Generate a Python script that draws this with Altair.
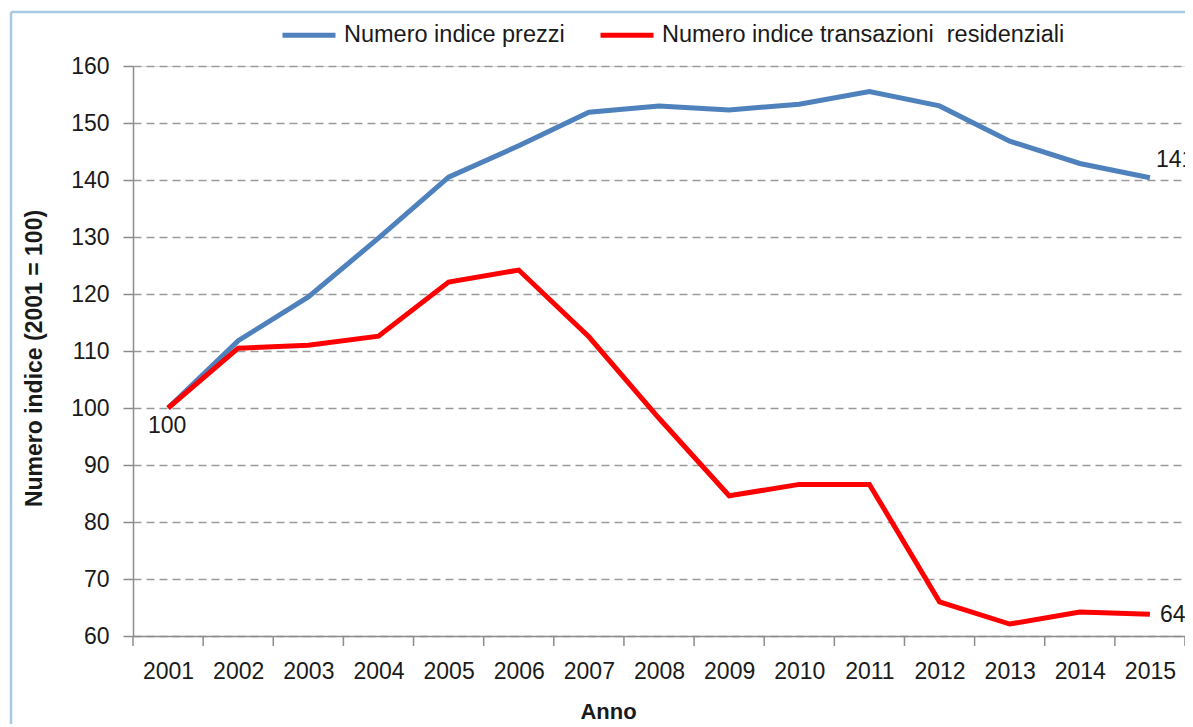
import altair as alt
import pandas as pd

# ---- data ----
years = list(range(2001, 2016))
prezzi = [100, 111.8, 119.5, 129.8, 140.5, 146.0, 151.9, 153.0, 152.3, 153.3, 155.5, 153.0, 146.8, 142.9, 140.4]
transazioni = [100, 110.5, 111.0, 112.6, 122.1, 124.2, 112.5, 98.2, 84.6, 86.6, 86.6, 66.0, 62.1, 64.2, 63.8]
series_names = ["Numero indice prezzi", "Numero indice transazioni \u00a0residenziali"]
series_colors = ["#4F81BD", "#FF0000"]
y_ticks = [60, 70, 80, 90, 100, 110, 120, 130, 140, 150, 160]

lab_first_year = [2001]
lab_first_val = [100]
lab_first_txt = ["100"]
lab_prezzi_year = [2015]
lab_prezzi_val = [140.4]
lab_prezzi_txt = ["141"]
lab_trans_year = [2015]
lab_trans_val = [63.8]
lab_trans_txt = ["64"]

FONT = "Liberation Sans"
TXT = "#1a1a1a"
GRAY = "#8c8c8c"
PLOT_H = 570

df = pd.DataFrame({
    "year": years * 2,
    "value": prezzi + transazioni,
    "serie": [series_names[0]] * len(years) + [series_names[1]] * len(years),
})
boundaries = [y - 0.5 for y in years] + [years[-1] + 0.5]

xs = alt.Scale(domain=[years[0] - 0.5, years[-1] + 0.5], nice=False, zero=False)
ys = alt.Scale(domain=[y_ticks[0], y_ticks[-1]], nice=False, zero=False)

lines = alt.Chart(df).mark_line(strokeWidth=5).encode(
    x=alt.X("year:Q", scale=xs, axis=alt.Axis(
        values=years, format="d", ticks=False, domain=True, domainColor=GRAY,
        domainWidth=1.5, grid=False,
        labelFontSize=23, labelPadding=24, labelColor=TXT, labelFont=FONT,
        title="Anno", titleFont=FONT, titleFontSize=22, titleFontWeight="bold",
        titleColor=TXT, titleX=475, titleY=75, titleBaseline="middle",
        titleAnchor="start", titleAlign="center", orient="bottom")),
    y=alt.Y("value:Q", scale=ys, axis=alt.Axis(
        values=y_ticks, format="d", tickSize=10, tickColor=GRAY, domainColor=GRAY,
        domainWidth=1.5, tickWidth=1.5,
        grid=True, gridColor="#9a9a9a", gridDash=[8, 5], gridWidth=1.5,
        labelFontSize=23, labelPadding=14, labelColor=TXT, labelFont=FONT,
        title="Numero indice  (2001 = 100)", titleFont=FONT, titleFontSize=23,
        titleFontWeight="bold", titleColor=TXT, titleAngle=-90,
        titleX=-99, titleY=292, titleAlign="center", titleBaseline="middle")),
    color=alt.Color("serie:N", scale=alt.Scale(domain=series_names, range=series_colors),
                    legend=alt.Legend(orient="none", legendX=147, legendY=-60,
                                      direction="horizontal", title=None,
                                      symbolType="stroke", symbolSize=2809,
                                      symbolStrokeWidth=5, labelFontSize=23.5,
                                      labelFont=FONT, labelColor=TXT, labelOffset=6,
                                      columnPadding=25, labelLimit=700)),
)

# category-boundary tick marks below the x axis (Excel style)
ticks_layer = alt.Chart(pd.DataFrame({"b": boundaries})).mark_rule(
    color=GRAY, strokeWidth=1.5).encode(
    x=alt.X("b:Q", scale=xs),
    y=alt.value(PLOT_H), y2=alt.value(PLOT_H + 10),
)

def label_layer(yrs, vals, txts, dx, dy, align):
    d = pd.DataFrame({"year": yrs, "value": vals, "t": txts})
    return alt.Chart(d).mark_text(dx=dx, dy=dy, align=align, baseline="middle",
                                  fontSize=23, font=FONT, color=TXT, clip=False).encode(
        x=alt.X("year:Q", scale=xs), y=alt.Y("value:Q", scale=ys), text="t:N")

labels = (label_layer(lab_first_year, lab_first_val, lab_first_txt, -1, 18, "center")
          + label_layer(lab_prezzi_year, lab_prezzi_val, lab_prezzi_txt, 6, -18, "left")
          + label_layer(lab_trans_year, lab_trans_val, lab_trans_txt, 10, 1, "left"))

border_src = pd.DataFrame({"a": [0]})
border_v = alt.Chart(border_src).mark_rule(color="#a9c9e3", strokeWidth=2.5).encode(
    x=alt.value(-122), y=alt.value(-54), y2=alt.value(700))
border_h = alt.Chart(border_src).mark_rule(color="#a9c9e3", strokeWidth=2.5).encode(
    x=alt.value(-122), x2=alt.value(1100), y=alt.value(-54))

chart = alt.layer(border_v, border_h, ticks_layer, lines, labels).properties(
    width=1052, height=PLOT_H,
    autosize=alt.AutoSizeParams(type="none"),
    padding={"left": 125, "top": 58, "right": 0, "bottom": 88},
).configure_view(stroke=None).configure(background="white")

chart.save("out.html", embed_options={"renderer": "svg", "actions": False})
